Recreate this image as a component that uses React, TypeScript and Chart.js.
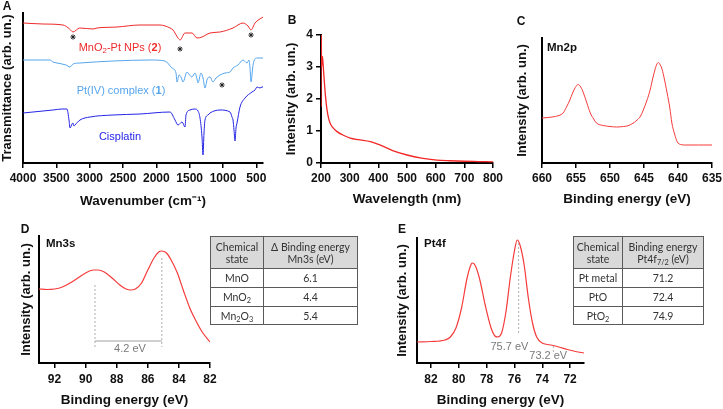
import React, { useEffect, useRef } from "react";
import { Chart, registerables } from "chart.js";
Chart.register(...registerables);

const FONT = "'Liberation Sans', Arial, Helvetica, sans-serif";
const TABLE_FONT = "Lato, 'Open Sans', sans-serif";

// ---------- Panel A: FTIR ----------
const irTicks = [4000, 3500, 3000, 2500, 2000, 1500, 1000, 500];
const irRedWn = [4000, 3700, 3400, 3300, 3250, 3150, 2950, 2890, 2590, 2245, 1945, 1795, 1750, 1675, 1645, 1570, 1465, 1390, 1315, 1195, 1045, 850, 700, 625, 580, 520, 400];
const irRedT = [140, 139, 138, 134, 131, 135, 134, 135, 136, 138, 138, 135, 133, 125, 123, 130, 130, 125, 126, 130, 131, 135, 140, 137, 133, 140, 146];

const irPtWn = [4000, 3595, 3550, 3490, 3355, 3295, 3250, 3145, 2650, 2095, 1870, 1765, 1705, 1690, 1660, 1630, 1600, 1540, 1525, 1465, 1420, 1390, 1375, 1330, 1300, 1270, 1240, 1210, 1195, 1150, 1105, 1045, 970, 895, 850, 775, 700, 640, 610, 595, 580, 550, 490, 415, 400];
const irPtT = [103, 103, 101, 100, 98, 96, 99, 100, 102, 103, 102, 95, 90, 81, 88, 86, 81, 91, 90, 86, 90, 84, 80, 90, 85, 75, 83, 86, 86, 81, 85, 88, 90, 91, 95, 98, 103, 100, 103, 95, 81, 98, 105, 105, 105];

const irCisWn = [4000, 3550, 3415, 3340, 3310, 3295, 3265, 3250, 3235, 3220, 3145, 2995, 2650, 2245, 1795, 1720, 1675, 1615, 1570, 1555, 1495, 1420, 1375, 1345, 1315, 1300, 1285, 1270, 1225, 1195, 1045, 895, 865, 850, 835, 820, 805, 790, 745, 670, 565, 520, 490, 445, 415, 400];
const irCisT = [50, 53, 54, 54, 43, 35, 39, 40, 37, 38, 43, 46, 48, 49, 51, 43, 38, 41, 36, 48, 53, 54, 52, 45, 26, 8, 30, 43, 48, 50, 53, 51, 46, 43, 33, 22, 35, 40, 56, 65, 71, 73, 76, 75, 76, 76];

const irStarWn = [3250, 1645, 580, 1015];
const irStarT = [126, 114, 128, 78];
const irLabelWn = [2545, 2530, 2545];
const irLabelT = [115, 72, 26];
type Seg = { t: string; sub?: boolean; bold?: boolean };
const irLabelText: Seg[][] = [
  [{ t: "MnO" }, { t: "2", sub: true }, { t: "-Pt NPs (" }, { t: "2", bold: true }, { t: ")" }],
  [{ t: "Pt(IV) complex (" }, { t: "1", bold: true }, { t: ")" }],
  [{ t: "Cisplatin" }],
];
const irColors = ["#ee2a2a", "#55a5ee", "#2424e6"];

// ---------- Panel B: UV-vis ----------
const uvTicks = [200, 300, 400, 500, 600, 700, 800];
const uvYTicks = [0, 1, 2, 3, 4];
const uvWl = [200, 200.5, 202, 205, 208, 212, 216, 221, 226, 232, 240, 256, 280, 302, 330, 372, 407, 450, 500, 550, 604, 650, 700, 750, 800];
const uvInt = [1.75, 4.5, 3.0, 3.33, 3.0, 2.5, 2.05, 1.66, 1.42, 1.24, 1.12, 0.98, 0.86, 0.78, 0.73, 0.67, 0.56, 0.39, 0.25, 0.15, 0.09, 0.07, 0.055, 0.045, 0.035];

// ---------- Panel C: Mn2p ----------
const mn2pTicks = [660, 655, 650, 645, 640, 635];
const mn2pBE = [660, 658.5, 657.5, 656.9, 656.4, 655.9, 655.5, 655.1, 654.7, 654.3, 653.9, 653.4, 652.9, 652.4, 652, 651, 650, 649, 648, 647.5, 646.8, 646, 645.5, 645.1, 644.6, 644.1, 643.7, 643.4, 643.1, 642.9, 642.6, 642.4, 642.1, 641.6, 641.2, 640.9, 640.5, 640.1, 639.6, 639, 637, 635];
const mn2pInt = [45, 46, 47.5, 50, 56, 63, 70, 75.5, 78.5, 76, 70, 60, 50, 44, 40, 37.5, 36.5, 36, 36.5, 37, 39, 43, 47, 53, 62, 73, 85, 93, 99, 100.5, 98, 95, 87, 70, 55, 40, 29, 21, 18.5, 18, 18, 18];

// ---------- Panel D: Mn3s ----------
const mn3sTicks = [92, 90, 88, 86, 84, 82];
const mn3sBE = [93, 92.5, 92, 91.5, 91, 90.5, 90, 89.5, 89.2, 88.8, 88.3, 87.8, 87.4, 87.1, 86.8, 86.4, 86, 85.6, 85.3, 85.1, 84.8, 84.5, 84.1, 83.7, 83.3, 82.9, 82.5, 82];
const mn3sInt = [74, 73.5, 74, 76, 80, 85, 90, 93, 93, 91, 85, 78, 74, 73, 74, 80, 93, 105, 111, 112, 110, 103, 90, 72, 55, 42, 31, 21];
const mn3sSplitBE = [89.4, 85.1];
const mn3sSplitTop = [78, 105];
const mn3sSplitBottom = [16, 16];
const mn3sBarLevel = 22;
const mn3sSplitLabel = "4.2 eV";
const mn3sLabelPos = [87.15, 14.5];

// ---------- Panel E: Pt4f ----------
const pt4fTicks = [82, 80, 78, 76, 74, 72];
const pt4fBE = [83, 82, 81, 80.6, 80.2, 79.8, 79.4, 79.1, 79.0, 78.8, 78.5, 78.1, 77.7, 77.4, 77.2, 76.9, 76.6, 76.3, 76.0, 75.8, 75.6, 75.3, 75.0, 74.7, 74.4, 74.0, 73.6, 73.2, 72.8, 72.2, 71.6, 71];
const pt4fInt = [21, 21.5, 23, 26, 35, 55, 85, 99, 100, 97, 84, 58, 36, 27, 26, 31, 52, 85, 112, 123, 118, 98, 65, 40, 26, 20, 18.5, 17.5, 16, 13.5, 11.5, 10];
const pt4fMarkBE = [75.7, 73.2];
const pt4fMarkTop = [120, 17];
const pt4fMarkBottom = [28, 11];
const pt4fMarkLabels = ["75.7 eV", "73.2 eV"];
const pt4fLabelBE = [76.36, 73.57];
const pt4fLabelInt = [16.3, 7.3];

// ---------- Tables ----------
const mn3sStates = ["MnO", "MnO_2", "Mn_2O_3"];
const mn3sDeltaBE = ["6.1", "4.4", "5.4"];
const pt4fStates = ["Pt metal", "PtO", "PtO_2"];
const pt4fTableBE = ["71.2", "72.4", "74.9"];

// ---------- helpers ----------
const TICK_FONT = { family: FONT, size: 12, weight: "bold" as const };
const XTITLE_FONT = { family: FONT, size: 13.5, weight: "bold" as const };
const YTITLE_FONT = { family: FONT, size: 13, weight: "bold" as const };

function pts(xs: number[], ys: number[]) {
  return xs.map((x, i) => ({ x, y: ys[i] }));
}

function lineDs(xs: number[], ys: number[], color: string, width = 1) {
  return {
    data: pts(xs, ys),
    borderColor: color,
    borderWidth: width,
    pointRadius: 0,
    fill: false,
    cubicInterpolationMode: "monotone" as const,
  };
}

function xAxis(p: { min: number; max: number; ticks: number[]; reverse: boolean; title: string; height: number; titleBottom: number; tickPad: number }) {
  return {
    type: "linear" as const,
    min: p.min,
    max: p.max,
    reverse: p.reverse,
    afterBuildTicks: (s: any) => {
      s.ticks = p.ticks.map((v) => ({ value: v }));
    },
    afterFit: (s: any) => {
      s.height = p.height;
      s.paddingLeft = 0;
      s.paddingRight = 0;
    },
    ticks: { font: TICK_FONT, color: "#111", padding: p.tickPad, maxRotation: 0, autoSkip: false, callback: (v: any) => String(v) },
    grid: { display: true, drawOnChartArea: false, drawTicks: true, tickLength: 5, color: "#000", lineWidth: 1.5 },
    border: { display: true, color: "#000", width: 2 },
    title: { display: true, text: p.title, font: XTITLE_FONT, color: "#111", padding: { top: 0, bottom: p.titleBottom } },
  };
}

function yAxis(p: { min: number; max: number; title: string; width: number; titleTop: number; ticks?: number[] }) {
  const showTicks = p.ticks !== undefined;
  return {
    type: "linear" as const,
    min: p.min,
    max: p.max,
    afterBuildTicks: (s: any) => {
      if (p.ticks) s.ticks = p.ticks.map((v) => ({ value: v }));
    },
    afterFit: (s: any) => {
      s.width = p.width;
      s.paddingTop = 0;
      s.paddingBottom = 0;
    },
    ticks: showTicks
      ? { font: TICK_FONT, color: "#111", padding: 3, autoSkip: false, callback: (v: any) => String(v) }
      : { display: false },
    grid: showTicks
      ? { display: true, drawOnChartArea: false, drawTicks: true, tickLength: 5, color: "#000", lineWidth: 1.5 }
      : { display: false },
    border: { display: true, color: "#000", width: 2 },
    title: { display: true, text: p.title, font: YTITLE_FONT, color: "#111", padding: { top: p.titleTop, bottom: 0 } },
  };
}

function annotPlugin(draw: (ctx: CanvasRenderingContext2D, px: (v: number) => number, py: (v: number) => number, area: any) => void) {
  return {
    id: "annot",
    afterDatasetsDraw(chart: any) {
      const ctx = chart.ctx as CanvasRenderingContext2D;
      const xs = chart.scales.x;
      const ys = chart.scales.y;
      ctx.save();
      draw(ctx, (v) => xs.getPixelForValue(v), (v) => ys.getPixelForValue(v), chart.chartArea);
      ctx.restore();
    },
  };
}

function drawRich(ctx: CanvasRenderingContext2D, segs: Seg[], cx: number, cy: number, size: number, color: string) {
  const fontOf = (s: Seg) => `${s.bold ? "bold " : ""}${s.sub ? size * 0.72 : size}px ${FONT}`;
  let w = 0;
  for (const s of segs) {
    ctx.font = fontOf(s);
    w += ctx.measureText(s.t).width;
  }
  let x = cx - w / 2;
  ctx.fillStyle = color;
  ctx.textBaseline = "middle";
  ctx.textAlign = "left";
  for (const s of segs) {
    ctx.font = fontOf(s);
    ctx.fillText(s.t, x, cy + (s.sub ? size * 0.3 : 0));
    x += ctx.measureText(s.t).width;
  }
}

function cornerLabel(text: string, dx: number, dy: number) {
  return annotPlugin((ctx, _px, _py, area) => {
    ctx.font = `bold 11.5px ${FONT}`;
    ctx.fillStyle = "#111";
    ctx.textBaseline = "middle";
    ctx.textAlign = "left";
    ctx.fillText(text, area.left + dx, area.top + dy);
  });
}

function baseOptions(padTop: number, padRight: number, x: any, y: any) {
  return {
    responsive: false,
    animation: false as const,
    events: [],
    layout: { padding: { top: padTop, right: padRight, left: 0, bottom: 0 } },
    plugins: { legend: { display: false }, tooltip: { enabled: false } },
    scales: { x, y },
  };
}

function ChartBox(props: { left: number; top: number; width: number; height: number; make: () => any }) {
  const ref = useRef<HTMLCanvasElement>(null);
  useEffect(() => {
    const chart = new Chart(ref.current as HTMLCanvasElement, props.make());
    return () => chart.destroy();
  }, []);
  return (
    <canvas
      ref={ref}
      width={props.width}
      height={props.height}
      style={{ position: "absolute", left: props.left, top: props.top, width: props.width, height: props.height }}
    />
  );
}

// ---------- chart configs ----------
const makeA = () => ({
  type: "line",
  data: {
    datasets: [
      lineDs(irRedWn, irRedT, irColors[0]),
      lineDs(irPtWn, irPtT, irColors[1]),
      lineDs(irCisWn, irCisT, irColors[2]),
      {
        data: pts(irStarWn, irStarT),
        showLine: false,
        pointStyle: "star",
        pointRadius: 2.6,
        borderColor: "#222",
        borderWidth: 1,
      },
    ],
  },
  options: baseOptions(
    13,
    12,
    xAxis({ min: 400, max: 4000, ticks: irTicks, reverse: true, title: "Wavenumber (cm\u207B\u00B9)", height: 52, titleBottom: 5.5, tickPad: 3 }),
    yAxis({ min: 0, max: 150, title: "Transmittance (arb. un.)", width: 23, titleTop: 0 })
  ),
  plugins: [
    annotPlugin((ctx, px, py) => {
      irLabelText.forEach((segs, i) => drawRich(ctx, segs, px(irLabelWn[i]), py(irLabelT[i]), 11, irColors[i]));
    }),
  ],
});

const makeB = () => ({
  type: "line",
  data: { datasets: [lineDs(uvWl, uvInt, "#f22626", 1.3)] },
  options: baseOptions(
    35,
    17,
    xAxis({ min: 200, max: 800, ticks: uvTicks, reverse: false, title: "Wavelength (nm)", height: 52, titleBottom: 8, tickPad: 3 }),
    yAxis({ min: 0, max: 4, ticks: uvYTicks, title: "Intensity (arb. un.)", width: 46, titleTop: 9 })
  ),
});

const makeC = () => ({
  type: "line",
  data: { datasets: [lineDs(mn2pBE, mn2pInt, "#f53b3b", 1)] },
  options: baseOptions(
    38,
    11,
    xAxis({ min: 635, max: 660, ticks: mn2pTicks, reverse: true, title: "Binding energy (eV)", height: 52, titleBottom: 8, tickPad: 3 }),
    yAxis({ min: 0, max: 125, title: "Intensity (arb. un.)", width: 42, titleTop: 15 })
  ),
  plugins: [cornerLabel("Mn2p", 5, 10)],
});

const makeD = () => ({
  type: "line",
  data: { datasets: [lineDs(mn3sBE, mn3sInt, "#f53b3b", 1.2)] },
  options: baseOptions(
    21,
    10,
    xAxis({ min: 82, max: 93, ticks: mn3sTicks, reverse: true, title: "Binding energy (eV)", height: 46, titleBottom: 1, tickPad: 4 }),
    yAxis({ min: 0, max: 127, title: "Intensity (arb. un.)", width: 39, titleTop: 19 })
  ),
  plugins: [
    cornerLabel("Mn3s", 7, 8),
    annotPlugin((ctx, px, py) => {
      ctx.strokeStyle = "#b0b0b0";
      ctx.lineWidth = 1;
      ctx.setLineDash([2, 2]);
      mn3sSplitBE.forEach((be, i) => {
        ctx.beginPath();
        ctx.moveTo(px(be), py(mn3sSplitTop[i]));
        ctx.lineTo(px(be), py(mn3sSplitBottom[i]));
        ctx.stroke();
      });
      ctx.setLineDash([]);
      ctx.strokeStyle = "#a0a0a0";
      ctx.beginPath();
      ctx.moveTo(px(mn3sSplitBE[0]), py(mn3sBarLevel));
      ctx.lineTo(px(mn3sSplitBE[1]), py(mn3sBarLevel));
      ctx.stroke();
      ctx.font = `11px ${FONT}`;
      ctx.fillStyle = "#7a7a7a";
      ctx.textAlign = "center";
      ctx.textBaseline = "middle";
      ctx.fillText(mn3sSplitLabel, px(mn3sLabelPos[0]), py(mn3sLabelPos[1]));
    }),
  ],
});

const makeE = () => ({
  type: "line",
  data: { datasets: [lineDs(pt4fBE, pt4fInt, "#f53b3b", 1.2)] },
  options: baseOptions(
    23,
    6,
    xAxis({ min: 71, max: 83, ticks: pt4fTicks, reverse: true, title: "Binding energy (eV)", height: 46, titleBottom: 1, tickPad: 4 }),
    yAxis({ min: 0, max: 125, title: "Intensity (arb. un.)", width: 37, titleTop: 15 })
  ),
  plugins: [
    cornerLabel("Pt4f", 7, 6),
    annotPlugin((ctx, px, py) => {
      ctx.strokeStyle = "#b0b0b0";
      ctx.lineWidth = 1;
      ctx.setLineDash([2, 2]);
      pt4fMarkBE.forEach((be, i) => {
        ctx.beginPath();
        ctx.moveTo(px(be), py(pt4fMarkTop[i]));
        ctx.lineTo(px(be), py(pt4fMarkBottom[i]));
        ctx.stroke();
      });
      ctx.setLineDash([]);
      ctx.font = `11px ${FONT}`;
      ctx.fillStyle = "#7a7a7a";
      ctx.textAlign = "center";
      ctx.textBaseline = "middle";
      pt4fMarkLabels.forEach((t, i) => ctx.fillText(t, px(pt4fLabelBE[i]), py(pt4fLabelInt[i])));
    }),
  ],
});

// ---------- tables ----------
function formula(s: string) {
  const parts = s.split(/_(\d)/);
  return parts.map((p, i) =>
    i % 2 === 1 ? (
      <sub key={i} style={{ fontSize: "70%", verticalAlign: "-0.3em", lineHeight: 0 }}>
        {p}
      </sub>
    ) : (
      <span key={i}>{p}</span>
    )
  );
}

const cellStyle: React.CSSProperties = {
  border: "1px solid #5a5a5a",
  padding: 0,
  textAlign: "center",
  verticalAlign: "middle",
};

function DataTable(props: {
  left: number;
  top: number;
  colW: [number, number];
  header: [React.ReactNode, React.ReactNode];
  col1: string[];
  col2: string[];
}) {
  const rowH = [19, 19, 18];
  return (
    <table
      style={{
        position: "absolute",
        left: props.left,
        top: props.top,
        borderCollapse: "collapse",
        border: "1.5px solid #3a3a3a",
        fontFamily: TABLE_FONT,
        fontSize: 10.5,
        color: "#333",
        lineHeight: "12px",
        tableLayout: "fixed",
        width: props.colW[0] + props.colW[1],
      }}
    >
      <colgroup>
        <col style={{ width: props.colW[0] }} />
        <col style={{ width: props.colW[1] }} />
      </colgroup>
      <tbody>
        <tr style={{ height: 32, background: "#d9d9d9" }}>
          <td style={cellStyle}>{props.header[0]}</td>
          <td style={cellStyle}>{props.header[1]}</td>
        </tr>
        {props.col1.map((c, i) => (
          <tr key={i} style={{ height: rowH[i] }}>
            <td style={cellStyle}>{formula(c)}</td>
            <td style={cellStyle}>{props.col2[i]}</td>
          </tr>
        ))}
      </tbody>
    </table>
  );
}

function PanelLetter(props: { text: string; x: number; y: number }) {
  return (
    <div
      style={{
        position: "absolute",
        left: props.x,
        top: props.y,
        transform: "translate(-50%, -50%)",
        font: `bold 12px ${FONT}`,
        color: "#111",
        lineHeight: "12px",
      }}
    >
      {props.text}
    </div>
  );
}

export default function App() {
  return (
    <div style={{ position: "absolute", left: 0, top: 0, width: 723, height: 409, background: "#fff", overflow: "hidden" }}>
      <ChartBox left={0} top={0} width={275} height={215} make={makeA} />
      <ChartBox left={275} top={0} width={235} height={215} make={makeB} />
      <ChartBox left={500} top={0} width={223} height={215} make={makeC} />
      <ChartBox left={0} top={215} width={220} height={194} make={makeD} />
      <ChartBox left={380} top={215} width={210} height={194} make={makeE} />
      <DataTable
        left={210}
        top={236}
        colW={[53, 94]}
        header={[
          <span>Chemical<br />state</span>,
          <span>Δ Binding energy<br />Mn3s (eV)</span>,
        ]}
        col1={mn3sStates}
        col2={mn3sDeltaBE}
      />
      <DataTable
        left={573}
        top={236}
        colW={[49, 81]}
        header={[
          <span>Chemical<br />state</span>,
          <span>
            Binding energy<br />Pt4f
            <sub style={{ fontSize: "70%", verticalAlign: "-0.3em", lineHeight: 0 }}>7/2</sub>
            {"  (eV)"}
          </span>,
        ]}
        col1={pt4fStates}
        col2={pt4fTableBE}
      />
      <PanelLetter text="A" x={7} y={6} />
      <PanelLetter text="B" x={292} y={20} />
      <PanelLetter text="C" x={521} y={21} />
      <PanelLetter text="D" x={25} y={229} />
      <PanelLetter text="E" x={402} y={229} />
    </div>
  );
}
